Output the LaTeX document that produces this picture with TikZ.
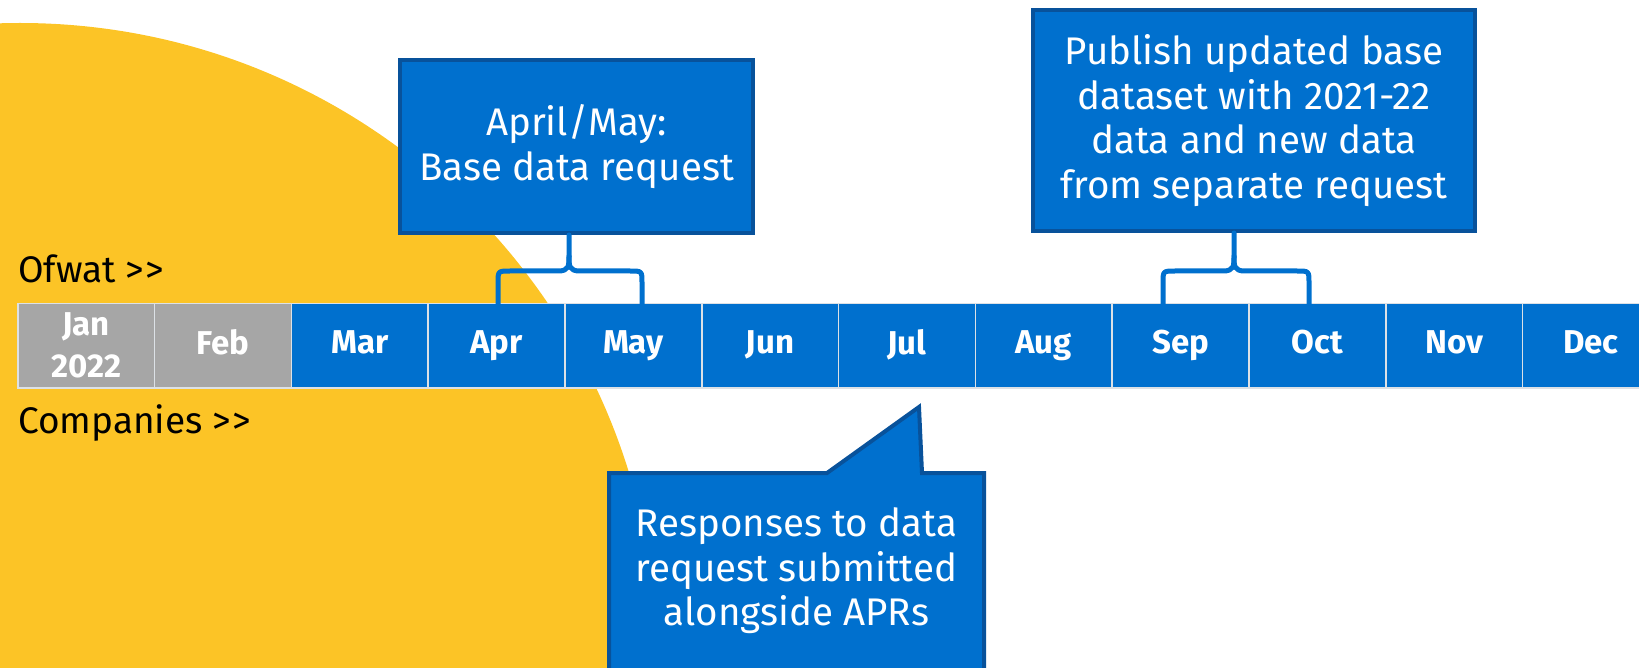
\documentclass[tikz,border=0pt]{standalone}
\usepackage{fontspec}
\setmainfont{Fira Sans}
\usetikzlibrary{calc}
\definecolor{yel}{RGB}{252,196,38}
\definecolor{blu}{RGB}{0,112,206}
\definecolor{dblu}{RGB}{8,82,155}
\definecolor{gry}{RGB}{166,166,166}
\definecolor{edge}{RGB}{220,225,230}
\begin{document}
\begin{tikzpicture}[x=1pt,y=-1pt,
 month/.style={minimum width=136.8pt, minimum height=84pt, inner sep=0pt, draw=edge, line width=1.5pt, text=white, font=\fontsize{33}{36}\selectfont\bfseries, align=center, anchor=north west},
 callout/.style={fill=blu, draw=dblu, line width=4pt, text=white, font=\fontsize{38.5}{44.5}\selectfont, align=center, inner sep=0pt},
 ctext/.style={text=white, font=\fontsize{38.5}{44.5}\selectfont, align=center, inner sep=0pt},
 brace/.style={draw=blu, line width=5pt, line cap=round, line join=round},
 lbl/.style={font=\fontsize{37}{40}\selectfont, anchor=base west, inner sep=0pt}]
\useasboundingbox (0,0) rectangle (1639,668);
\clip (0,0) rectangle (1639,668);
\fill[yel] (20,660) circle (637pt);

% timeline
\node[month, fill=gry, font=\fontsize{33}{42}\selectfont\bfseries] (m0) at (17,303) {Jan\\2022};
\node[month, fill=gry] (m1) at ({17+136.8},303) {\vphantom{Ay}Feb};
\foreach \lab [count=\i from 2] in {Mar,Apr,May,Jun,Jul,Aug,Sep,Oct,Nov,Dec}
  \node[month, fill=blu] (m\i) at ({17+136.8*\i},303) {\vphantom{Ay}\lab};

% row labels
\node[lbl] (ofwat) at (18,283) {Ofwat {>}\kern1pt{>}};
\node[lbl] (comp) at (18,433) {Companies {>}\kern1pt{>}};

% top callouts
\node[callout, minimum width=353pt, minimum height=173pt] (req) at (576.5,146.5) {April/May:\\Base data request};
\node[callout, minimum width=442pt, minimum height=221pt] (pub) at (1254,120.5) {Publish updated base\\dataset with 2021-22\\data and new data\\from separate request};

% braces
\coordinate (r1) at (498,317);
\coordinate (r2) at (642,317);
\coordinate (rs) at (569,235);
\draw[brace] (r1) -- (498,283) .. controls (498,271) .. (510,271) -- (558,271)
   .. controls (569,271) and (569,266) .. (569,256) -- (rs);
\draw[brace] (r2) -- (642,283) .. controls (642,271) .. (630,271) -- (580,271)
   .. controls (569,271) and (569,266) .. (569,256);

\coordinate (p1) at (1163,307);
\coordinate (p2) at (1309,307);
\coordinate (ps) at (1234,233);
\draw[brace] (p1) -- (1163,283) .. controls (1163,271) .. (1175,271) -- (1223,271)
   .. controls (1234,271) and (1234,266) .. (1234,256) -- (ps);
\draw[brace] (p2) -- (1309,283) .. controls (1309,271) .. (1297,271) -- (1245,271)
   .. controls (1234,271) and (1234,266) .. (1234,256);

% bottom callout
\coordinate (tip) at (919,407);
\path[fill=blu, draw=dblu, line width=4pt, line join=miter]
  (609,473) -- (827,473) -- (tip) -- (922,473) -- (984,473) -- (984,700) -- (609,700) -- cycle;
\node[ctext] (resp) at (796.5,571) {Responses to data\\request submitted\\alongside APRs};
\end{tikzpicture}
\end{document}
